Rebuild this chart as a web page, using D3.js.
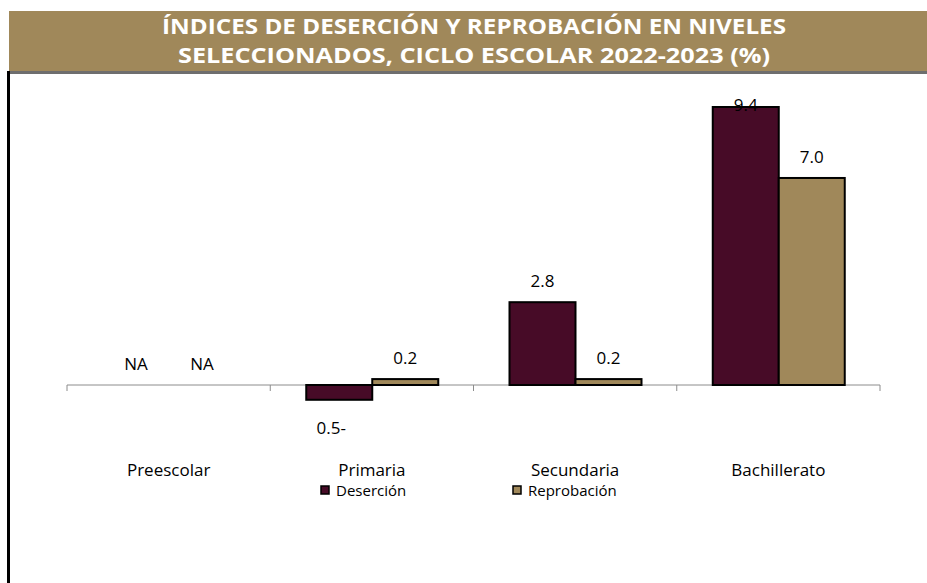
<!DOCTYPE html>
<html>
<head>
<meta charset="utf-8">
<script src="https://cdn.jsdelivr.net/npm/d3@7"></script>
<style>
  html, body { margin: 0; padding: 0; background: #ffffff; }
  svg { display: block; }
</style>
</head>
<body>
<svg id="chart" width="927" height="583"></svg>
<script>
const titleLines = ["ÍNDICES DE DESERCIÓN Y REPROBACIÓN EN NIVELES", "SELECCIONADOS, CICLO ESCOLAR 2022-2023 (%)"];
const categories = ["Preescolar", "Primaria", "Secundaria", "Bachillerato"];
const seriesNames = ["Deserción", "Reprobación"];
const desercion = [null, -0.5, 2.8, 9.4];
const reprobacion = [null, 0.2, 0.2, 7.0];
const seriesColors = ["#470B27", "#A0885A"];

const svg = d3.select("#chart");
const font = "'Open Sans', 'Noto Sans', sans-serif";

// Title banner
svg.append("rect").attr("x", 9).attr("y", 11).attr("width", 918).attr("height", 60).attr("fill", "#A0885A");
svg.append("rect").attr("x", 9).attr("y", 71).attr("width", 918).attr("height", 3).attr("fill", "#6E6E6E");
const titleW = [624, 592];
titleLines.forEach((t, i) => {
  svg.append("text")
    .attr("x", 474).attr("y", 34 + i * 29)
    .attr("text-anchor", "middle")
    .attr("font-family", "'Liberation Sans Narrow', 'Open Sans', sans-serif").attr("font-weight", "bold").attr("font-size", 22)
    .attr("fill", "#ffffff")
    .attr("textLength", titleW[i]).attr("lengthAdjust", "spacingAndGlyphs")
    .text(t);
});
// left black border line
svg.append("rect").attr("x", 7).attr("y", 71).attr("width", 3).attr("height", 512).attr("fill", "#000000");

// Scales
const plotLeft = 67, plotRight = 880, plotTop = 97;
const x = d3.scaleBand().domain(categories).range([plotLeft, plotRight]).paddingInner(0).paddingOuter(0);
const x1 = d3.scaleBand().domain(seriesNames).range([36, 36 + 132]);
const y = d3.scaleLinear().domain([0, 9.4]).range([385, 107]);

// axis line and ticks
const axisG = svg.append("g");
axisG.append("line").attr("x1", plotLeft).attr("x2", plotRight)
  .attr("y1", y(0)).attr("y2", y(0)).attr("stroke", "#8c8c8c").attr("stroke-width", 1);
const tickPos = categories.map(c => x(c)).concat([x(categories[categories.length - 1]) + x.bandwidth()]);
axisG.selectAll("line.tick").data(tickPos).enter().append("line")
  .attr("x1", d => d).attr("x2", d => d)
  .attr("y1", y(0)).attr("y2", y(0) + 6)
  .attr("stroke", "#8c8c8c").attr("stroke-width", 1);

// Bars
const data = [];
categories.forEach((c, i) => {
  data.push({ cat: c, s: seriesNames[0], v: desercion[i], color: seriesColors[0] });
  data.push({ cat: c, s: seriesNames[1], v: reprobacion[i], color: seriesColors[1] });
});
svg.selectAll("rect.bar").data(data.filter(d => d.v !== null)).enter().append("rect")
  .attr("class", "bar")
  .attr("x", d => x(d.cat) + x1(d.s))
  .attr("width", x1.bandwidth())
  .attr("y", d => Math.min(y(d.v), y(0)))
  .attr("height", d => Math.abs(y(d.v) - y(0)))
  .attr("fill", d => d.color)
  .attr("stroke", "#000000").attr("stroke-width", 2);

// Data labels
svg.selectAll("text.lbl").data(data).enter().append("text")
  .attr("class", "lbl")
  .attr("x", d => x(d.cat) + x1(d.s) + x1.bandwidth() / 2 - (d.v !== null && d.v < 0 ? 8 : 0))
  .attr("y", d => {
    if (d.v === null) return y(0) - 15;
    if (d.v < 0) return y(d.v) + 34;
    return Math.max(y(d.v) - 15, plotTop + 14);
  })
  .attr("text-anchor", "middle")
  .attr("font-family", font).attr("font-size", 17).attr("fill", "#000000")
  .text(d => d.v === null ? "NA" : (d.v < 0 ? Math.abs(d.v).toFixed(1) + "-" : d.v.toFixed(1)));

// Category labels
svg.selectAll("text.cat").data(categories).enter().append("text")
  .attr("x", d => x(d) + x.bandwidth() / 2)
  .attr("y", 476)
  .attr("text-anchor", "middle")
  .attr("font-family", font).attr("font-size", 17).attr("fill", "#000000")
  .text(d => d);

// Legend
const legendX = [321, 513];
seriesNames.forEach((s, i) => {
  svg.append("rect").attr("x", legendX[i]).attr("y", 486).attr("width", 8).attr("height", 8)
    .attr("fill", seriesColors[i]).attr("stroke", "#000000").attr("stroke-width", 1.5);
  svg.append("text").attr("x", legendX[i] + 15).attr("y", 496)
    .attr("font-family", font).attr("font-size", 15).attr("fill", "#000000")
    .text(s);
});
</script>
</body>
</html>
